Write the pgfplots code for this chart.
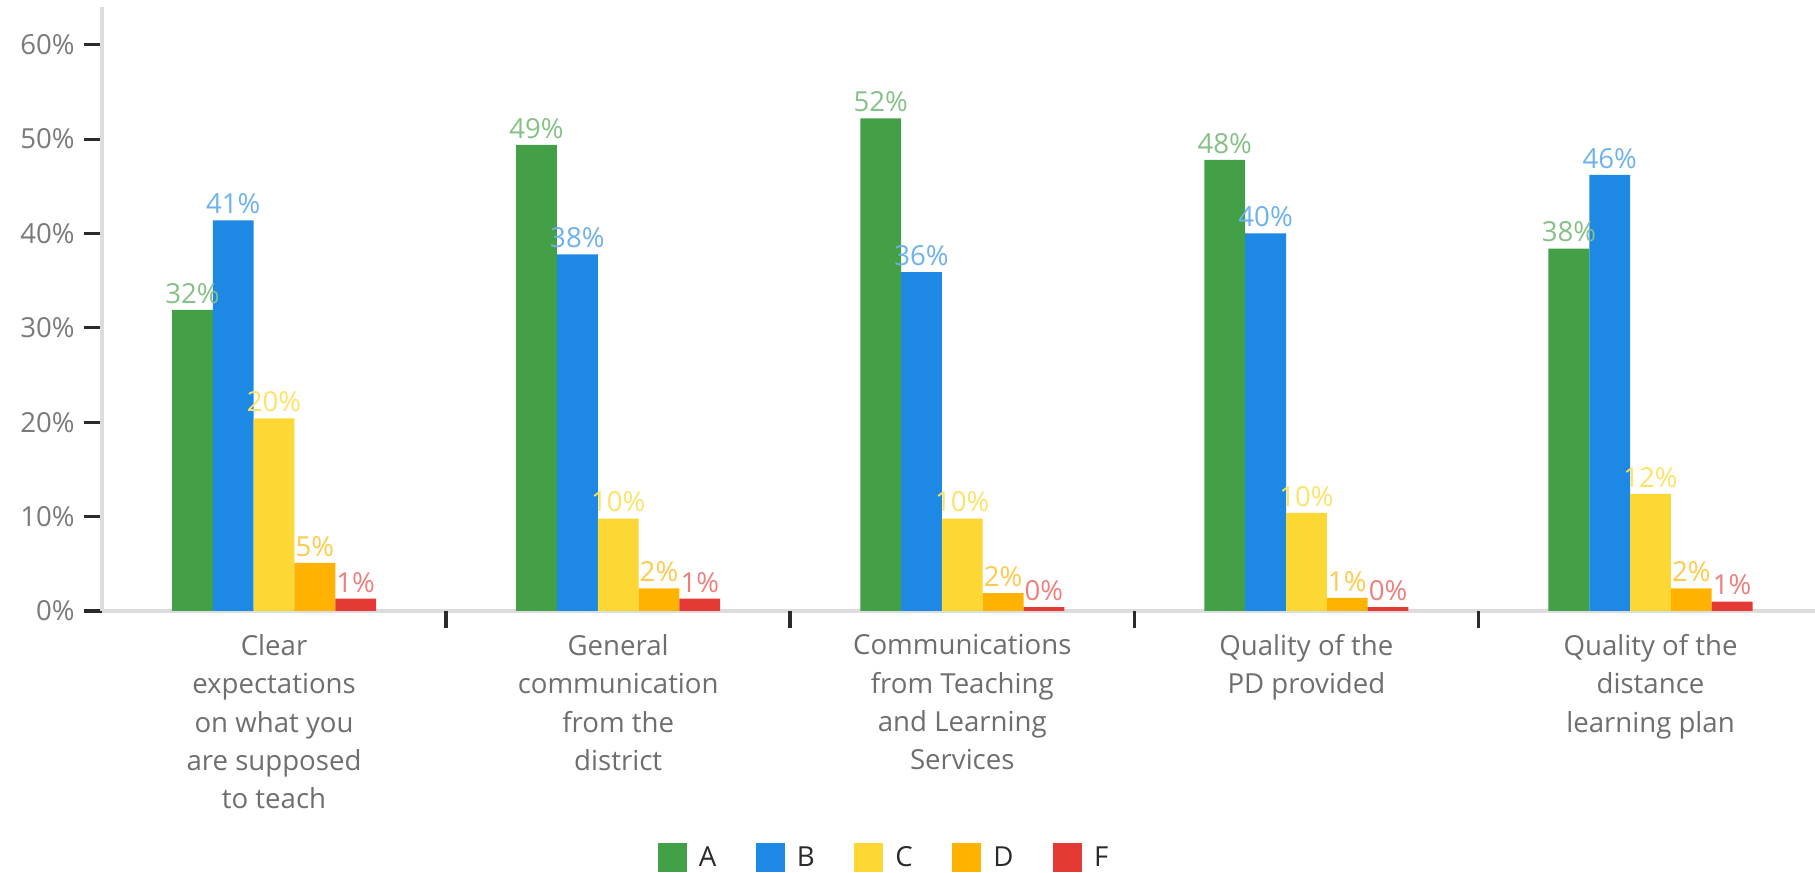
\documentclass[border=0pt]{standalone}
\usepackage{pgfplots}
\pgfplotsset{compat=1.18}
\usepackage{fontspec}
\setmainfont{Open Sans}
\definecolor{cA}{HTML}{43A047}
\definecolor{cB}{HTML}{1E88E5}
\definecolor{cC}{HTML}{FDD835}
\definecolor{cD}{HTML}{FFB300}
\definecolor{cF}{HTML}{E53935}
\definecolor{axisgray}{HTML}{DCDCDC}
\definecolor{tickdark}{HTML}{2A2A2A}
\definecolor{labgray}{HTML}{7A7A7A}
\definecolor{xlabgray}{HTML}{6E6E6E}
\definecolor{legtext}{HTML}{2A2A2A}
\newcommand\f{\fontsize{13.8pt}{19.2pt}\selectfont}
\begin{document}
\begin{tikzpicture}
\begin{axis}[
  scale only axis, width=856.5pt, height=302pt,
  xmin=-0.5, xmax=4.478, ymin=0, ymax=64,
  ybar=0pt, bar width=0.1186,
  axis x line*=bottom, axis y line*=left,
  axis line style={draw=axisgray, line width=2pt, -},
  tick align=outside,
  major tick length=9pt,
  ytick={0,10,20,30,40,50,60},
  yticklabel={\pgfmathprintnumber{\tick}\%},
  ytick style={draw=tickdark, line width=1.6pt},
  yticklabel style={font=\f, text=labgray, inner sep=0pt, xshift=-4.5pt},
  /pgf/number format/assume math mode=true,
  xtick={0,1,2,3,4},
  xtick style={draw=none},
  xticklabels={{Clear\\expectations\\on what you\\are supposed\\to teach},
               {General\\communication\\from the\\district},
               {Communications\\from Teaching\\and Learning\\Services},
               {Quality of the\\PD provided},
               {Quality of the\\distance\\learning plan}},
  xticklabel style={font=\f, text=xlabgray, align=center, anchor=north, inner sep=0pt, yshift=-2.5pt},
  extra x ticks={0.5,1.5,2.5,3.5},
  extra x tick labels={},
  extra x tick style={xtick style={draw=tickdark, line width=1.8pt}, major tick length=8.5pt},
  nodes near coords={\pgfmathprintnumber[fixed,precision=0]{\pgfplotspointmeta}\%},
  every node near coord/.append style={font=\f, anchor=south, inner sep=3pt},
  legend columns=5,
  legend image code/.code={\fill[#1] (0pt,-7.25pt) rectangle (14.5pt,7.25pt);},
  legend style={at={(axis description cs:0.456,0)}, anchor=center, yshift=-123.5pt,
    draw=none, fill=none, font=\f, text=legtext,
    nodes={inner sep=0pt},
    /tikz/every odd column/.append style={column sep=6pt},
    /tikz/every even column/.append style={column sep=19.8pt}},
]
\addplot[fill=cA, draw=none, every node near coord/.append style={text=cA!65!white}]
  coordinates {(0,31.9) (1,49.4) (2,52.2) (3,47.8) (4,38.4)};
\addplot[fill=cB, draw=none, every node near coord/.append style={text=cB!65!white}]
  coordinates {(0,41.4) (1,37.8) (2,35.9) (3,40.0) (4,46.2)};
\addplot[fill=cC, draw=none, every node near coord/.append style={text=cC!75!white}]
  coordinates {(0,20.4) (1,9.8) (2,9.8) (3,10.4) (4,12.4)};
\addplot[fill=cD, draw=none, every node near coord/.append style={text=cD!70!white}]
  coordinates {(0,5.1) (1,2.4) (2,1.9) (3,1.4) (4,2.4)};
\addplot[fill=cF, draw=none, every node near coord/.append style={text=cF!65!white}]
  coordinates {(0,1.3) (1,1.3) (2,0.4) (3,0.4) (4,1.0)};
\legend{A,B,C,D,F}
\end{axis}
\pgfresetboundingbox
\path[use as bounding box] ([xshift=-51pt,yshift=-131pt]current axis.south west) rectangle ([yshift=3.5pt]current axis.north east);
\end{tikzpicture}
\end{document}
